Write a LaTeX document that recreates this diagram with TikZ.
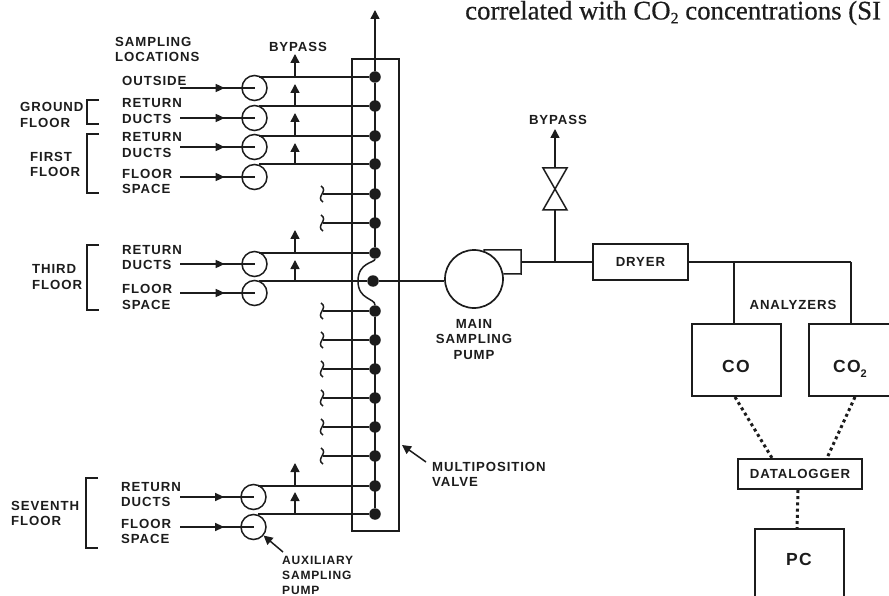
\documentclass[tikz,border=0pt]{standalone}
\usepackage{fontspec}
\usepackage{xcolor}
\setmainfont{Liberation Serif}
\newfontfamily\labfamily[LetterSpace=7]{Liberation Sans}
\newfontfamily\headfamily[FakeBold=0.5]{Liberation Serif}
\usetikzlibrary{arrows.meta, decorations.markings}
\definecolor{ink}{HTML}{1c1c1c}
\newcommand{\labfont}{\labfamily\bfseries\fontsize{13.2}{15.5}\selectfont}
\newcommand{\auxfont}{\labfamily\bfseries\fontsize{12}{15}\selectfont}
\newcommand{\bigfont}{\labfamily\bfseries\fontsize{17.5}{20}\selectfont}
\tikzset{
  pipe/.style={draw=ink, line width=1.5pt},
  tip/.style={pipe, -{Triangle[length=9pt,width=9pt]}},
  inlet/.style={pipe, postaction={decorate, decoration={markings,
      mark=at position 0.6 with {\arrow{Triangle[length=9pt,width=8pt]}}}}},
  port/.style={circle, fill=ink, inner sep=0pt, minimum size=11.5pt},
  pump/.style={circle, draw=ink, line width=1.5pt, inner sep=0pt, minimum size=25pt},
  unit/.style={draw=ink, line width=2pt, inner sep=0pt},
  lab/.style={text=ink, font=\labfont, align=left, anchor=west, inner sep=0pt},
  midlab/.style={text=ink, font=\labfont, align=center, inner sep=0pt},
  biglab/.style={text=ink, font=\bigfont, inner sep=0pt, anchor=base west},
  bracket/.style={draw=ink, line width=1.6pt},
  wire/.style={draw=ink, line width=3pt, dash pattern=on 3pt off 3.2pt}
}
\begin{document}
\begin{tikzpicture}[x=1pt, y=-1pt]
        \clip (0,0) rectangle (889,596);
        \useasboundingbox (0,0) rectangle (889,596);
        % text of the page above the figure
        \node[anchor=west, inner sep=0pt, text=ink, font=\headfamily\fontsize{26.8}{28}\selectfont] (head) at (465,13) {correlated with CO\raisebox{-4pt}{\fontsize{16}{16}\selectfont 2} concentrations (SI};

        % multiposition valve
        \node[unit, minimum width=47pt, minimum height=472pt] (valve) at (375,295) {};
        \foreach \n/\y in {1/77,2/106,3/136,4/164,5/194,6/223,7/253,9/311,10/340,11/369,12/398,13/427,14/456,15/486,16/514}
            \node[port] (d\n) at (375,\y) {};
        \node[port] (d8) at (373,281) {};
        \coordinate (top) at (375,10);
        \draw[tip] (d1) -- (top);
        \draw[pipe] (d1) -- (d7);
        \draw[pipe] (d7) .. controls (375,263) and (358,262) .. (358,281) .. controls (358,300) and (375,298) .. (d9);
        \draw[pipe] (d9) -- (d16);

        % auxiliary pumps and what feeds them
        \foreach \n/\x/\y/\d in {1/254.5/88/1,2/254.5/118/2,3/254.5/147/3,4/254.5/177/4,5/254.5/264/7,6/254.5/293/8,7/253.5/497/15,8/253.5/527/16} {
            \node[pump] (p\n) at (\x,\y) {};
            \coordinate (i\n) at (180,\y);
            \draw[inlet] (i\n) -- (p\n.center);
            \draw[pipe] (p\n.70 |- d\d) -- (d\d);
        }
        % bypass branches
        \foreach \n/\t in {1/54,2/84,3/113,4/143,7/230,8/260,15/463,16/492} {
            \coordinate (b\n) at (295,\t);
            \draw[tip] (b\n |- d\n) -- (b\n);
        }
        % capped ports
        \foreach \n in {5,6,9,10,11,12,13,14} {
            \path (d\n) -- ++(-52,0) coordinate (s\n);
            \draw[pipe] (s\n) -- (d\n);
            \draw[pipe, shift={(s\n)}] (-2,-8) .. controls (6,-3) and (-8,3) .. (0,8);
        }

        % main line
        \node[circle, draw=ink, line width=1.7pt, inner sep=0pt, minimum size=58pt] (main) at (474,279) {};
        \draw[pipe] (d8) -- (d8 -| main.west);
        \coordinate (out) at (521,262);
        \draw[pipe] (main.70) |- (521,250) -- (521,274) -- (main.10);
        \node[unit, minimum width=95pt, minimum height=35pt, font=\labfont, text=ink] (dryer) at (640.5,262) {DRYER\hspace{6pt}};
        \draw[pipe] (out) -- (dryer);
        \coordinate (tee) at (555,262);
        \coordinate (vb) at (555,210);
        \coordinate (vt) at (555,168);
        \coordinate (vtip) at (555,129);
        \draw[pipe] (tee) -- (vb);
        \draw[pipe] (543,168) -- (567,168) -- (543,210) -- (567,210) -- cycle;
        \draw[tip] (vt) -- (vtip);

        % analyzers
        \node[unit, minimum width=89pt, minimum height=72pt] (co) at (736.5,360) {};
        \node[biglab] (colab) at (722,372.5) {CO};
        \node[unit, minimum width=90pt, minimum height=72pt] (cotwo) at (854,360) {};
        \node[biglab] (cotwolab) at (833,372.5) {CO\raisebox{-5pt}{\fontsize{11}{11}\selectfont 2}};
        \coordinate (ja) at (734,262);
        \coordinate (jb) at (851,262);
        \draw[pipe] (dryer) -- (jb);
        \draw[pipe] (ja) -- (ja |- co.north);
        \draw[pipe] (jb) -- (jb |- cotwo.north);
        \node[unit, minimum width=124pt, minimum height=30pt, font=\labfont, text=ink] (log) at (800,474) {DATALOGGER};
        \node[unit, minimum width=89pt, minimum height=80pt] (pc) at (799.5,569) {};
        \node[biglab] (pclab) at (786,565.5) {PC};
        \draw[wire] (735,397) -- (772,458);
        \draw[wire] (855,397) -- (827,458);
        \draw[wire] (798,490) -- (797,528);

        % labels
        \node[lab] (samp) at (115,49.5) {SAMPLING\\LOCATIONS};
        \node[lab] (outs) at (122,81) {OUTSIDE};
        \node[lab] (r1) at (122,111) {RETURN\\DUCTS};
        \node[lab] (r2) at (122,145) {RETURN\\DUCTS};
        \node[lab] (f2) at (122,181.5) {FLOOR\\SPACE};
        \node[lab] (r3) at (122,257.5) {RETURN\\DUCTS};
        \node[lab] (f3) at (122,297) {FLOOR\\SPACE};
        \node[lab] (r7) at (121,494.5) {RETURN\\DUCTS};
        \node[lab] (f7) at (121,531.5) {FLOOR\\SPACE};
        \node[lab] (g) at (20,115) {GROUND\\FLOOR};
        \node[lab] (l1) at (30,164.5) {FIRST\\FLOOR};
        \node[lab] (l3) at (32,277) {THIRD\\FLOOR};
        \node[lab] (l7) at (11,513.5) {SEVENTH\\FLOOR};
        \node[midlab] (by1) at (298,47) {BYPASS};
        \node[midlab] (by2) at (558,120) {BYPASS};
        \node[midlab] (mainlab) at (474,339.5) {MAIN\\SAMPLING\\PUMP};
        \node[midlab] (anlab) at (793,305) {ANALYZERS};
        \node[lab] (mv) at (432,474.5) {MULTIPOSITION\\VALVE};
        \node[lab, font=\auxfont] (aux) at (282,575) {AUXILIARY\\SAMPLING\\PUMP};

        % floor brackets
        \draw[bracket] (99,100) -| (87,124) -- (99,124);
        \draw[bracket] (99,134) -| (87,193) -- (99,193);
        \draw[bracket] (99,245) -| (87,310) -- (99,310);
        \draw[bracket] (98,478) -| (86,548) -- (98,548);

        % pointers
        \coordinate (mva) at (426,462);
        \coordinate (mvb) at (402,445);
        \coordinate (axa) at (283,552);
        \draw[tip] (mva) -- (mvb);
        \draw[tip] (axa) -- (p8);
    \end{tikzpicture}
\end{document}
